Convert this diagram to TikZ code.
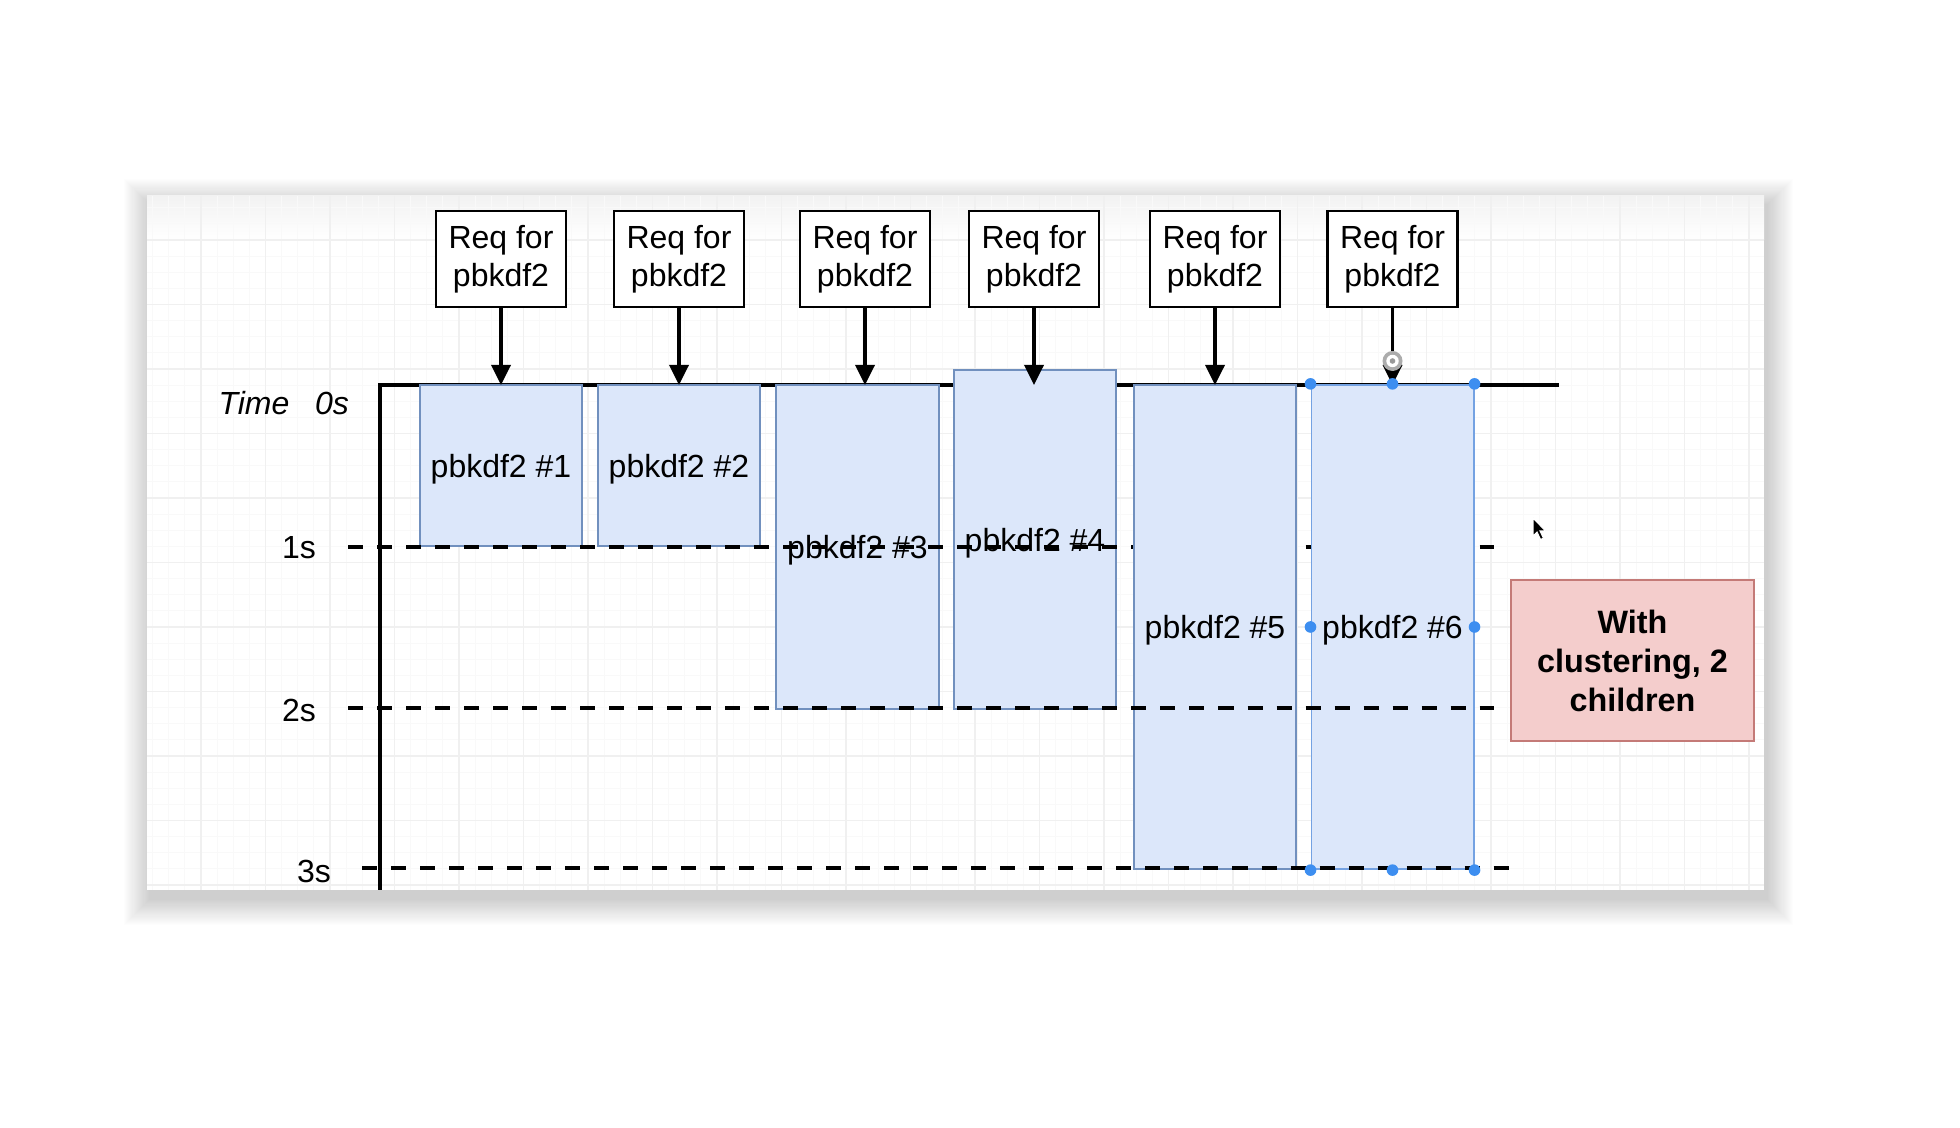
\documentclass[tikz,border=0pt]{standalone}
\usepackage{fontspec}
\setmainfont{Liberation Sans}
\usetikzlibrary{arrows.meta}
\definecolor{taskfill}{HTML}{DCE7FA}
\definecolor{taskedge}{HTML}{7190BE}
\definecolor{notefill}{HTML}{F4CDCC}
\definecolor{noteedge}{HTML}{C47A77}
\definecolor{handle}{HTML}{3D8EF0}
\definecolor{seledge}{HTML}{74A2E2}
\definecolor{gridmajor}{HTML}{F0F0F0}
\definecolor{gridminor}{HTML}{F9F9F9}

\begin{document}
\begin{tikzpicture}[x=0.01cm,y=-0.01cm,
  font=\fontsize{9.1}{10.7}\selectfont,
  reqbox/.style={draw=black, line width=0.75pt, fill=white,
    minimum width=1.3cm, minimum height=0.96cm, align=center, inner sep=0pt},
  taskbox/.style={draw=taskedge, fill=taskfill, line width=0.55pt,
    minimum width=1.62cm, inner sep=0pt},
  notebox/.style={draw=noteedge, fill=notefill, line width=0.55pt,
    minimum width=2.43cm, minimum height=1.61cm, align=center, inner sep=0pt,
    font=\fontsize{9.2}{11.1}\selectfont\bfseries},
  axisline/.style={draw=black, line width=1.15pt},
  tickline/.style={draw=black, line width=1.3pt, dash pattern=on 0.15cm off 0.14cm},
  reqarrow/.style={draw=black, line width=1.0pt,
    -{Triangle[length=0.2cm, width=0.19cm]}},
  gridmaj/.style={draw=gridmajor, line width=0.4pt},
  gridmin/.style={draw=gridminor, line width=0.3pt},
  handledot/.style={fill=handle},
]
\useasboundingbox (0,0) rectangle (1960,1128);
\fill[white] (0,0) rectangle (1960,1128);

% soft shadow under the canvas card
\foreach \i in {1,...,24}{
  \fill[black, opacity=0.0075] ({147+3-1.1*\i},{196+9-1.1*\i}) rectangle ({1764+3+1.1*\i},{890+9+1.1*\i});
}
\fill[white] (147,196) rectangle (1764,890);
\shade[top color=black!5, bottom color=white] (147,196) rectangle (1764,240);

% background grid
\begin{scope}
  \clip (147,196) rectangle (1764,890);
  \foreach \k in {-4,...,100}{\draw[gridmin] ({201+16.125*\k},196) -- ++(0,694);}
  \foreach \k in {-3,...,41}{\draw[gridmin] (147,{240+16.125*\k}) -- ++(1617,0);}
  \foreach \k in {-1,...,25}{\draw[gridmaj] ({201+64.5*\k},196) -- ++(0,694);}
  \foreach \k in {-1,...,11}{\draw[gridmaj] (147,{240+64.5*\k}) -- ++(1617,0);}
\end{scope}

% time axis
\coordinate (ax0) at (380,385);
\coordinate (axend) at (1559,385);
\coordinate (axbot) at (380,890);
\draw[axisline] (axbot) -- (ax0) -- (axend);

\node (tlabel) at (254,403) {\itshape Time};
\node (zlabel) at (332,403) {\itshape 0s};
\node (l1) at (299,548) {1s};
\node (l2) at (299,710) {2s};
\node (l3) at (314,871) {3s};

% first four jobs
\node[taskbox, minimum height=1.61cm, text depth=-2pt] (t1) at (501,465.5) {pbkdf2 \#1};
\node[taskbox, minimum height=1.61cm, text depth=-2pt] (t2) at (679,465.5) {pbkdf2 \#2};
\node[taskbox, minimum height=3.24cm, text depth=-2pt] (t3) at (857.5,547) {pbkdf2 \#3};
\node[taskbox, minimum height=3.39cm, text depth=-2pt] (t4) at (1035,539.5) {pbkdf2 \#4};

% one second mark
\coordinate (s1a) at (348,547);
\coordinate (s1b) at (1494,547);
\draw[tickline] (s1a) -- (s1b);

% jobs on the second child
\node[taskbox, minimum height=4.84cm, text depth=-2pt] (t5) at (1215,627) {pbkdf2 \#5};
\node[taskbox, draw=seledge, minimum height=4.84cm, text depth=-2pt] (t6) at (1392.5,627) {pbkdf2 \#6};

% two and three second marks
\coordinate (s2a) at (348,708);
\coordinate (s2b) at (1494,708);
\coordinate (s3a) at (362,868);
\coordinate (s3b) at (1512,868);
\draw[tickline] (s2a) -- (s2b);
\draw[tickline] (s3a) -- (s3b);

% incoming requests
\node[reqbox] (r1) at (501,259) {Req for\\pbkdf2};
\node[reqbox] (r2) at (679,259) {Req for\\pbkdf2};
\node[reqbox] (r3) at (865,259) {Req for\\pbkdf2};
\node[reqbox] (r4) at (1034,259) {Req for\\pbkdf2};
\node[reqbox] (r5) at (1215,259) {Req for\\pbkdf2};
\node[reqbox] (r6) at (1392.5,259) {Req for\\pbkdf2};

\foreach \r in {r1,r2,r3,r4,r5,r6}{
  \draw[reqarrow] (\r.south) -- (\r.south |- ax0);
}

% note
\node[notebox] (note) at (1632.5,660.5) {With\\clustering, 2\\children};

% selection handles on job 6
\foreach \a in {north west,north,north east,west,east,south west,south,south east}{
  \fill[handledot] (t6.\a) circle[radius=0.058cm];
}

% rotation handle
\fill[gray!65] (1392.5,361) circle[radius=0.1cm];
\fill[white] (1392.5,361) circle[radius=0.062cm];
\fill[gray!80] (1392.5,361) circle[radius=0.028cm];

% mouse pointer
\fill[black, draw=white, line width=0.3pt] (1533,518) -- ++(0,18) -- ++(4,-4)
  -- ++(3.5,7.5) -- ++(3,-1.3) -- ++(-3.5,-7.2) -- ++(5.5,0) -- cycle;
\end{tikzpicture}
\end{document}
